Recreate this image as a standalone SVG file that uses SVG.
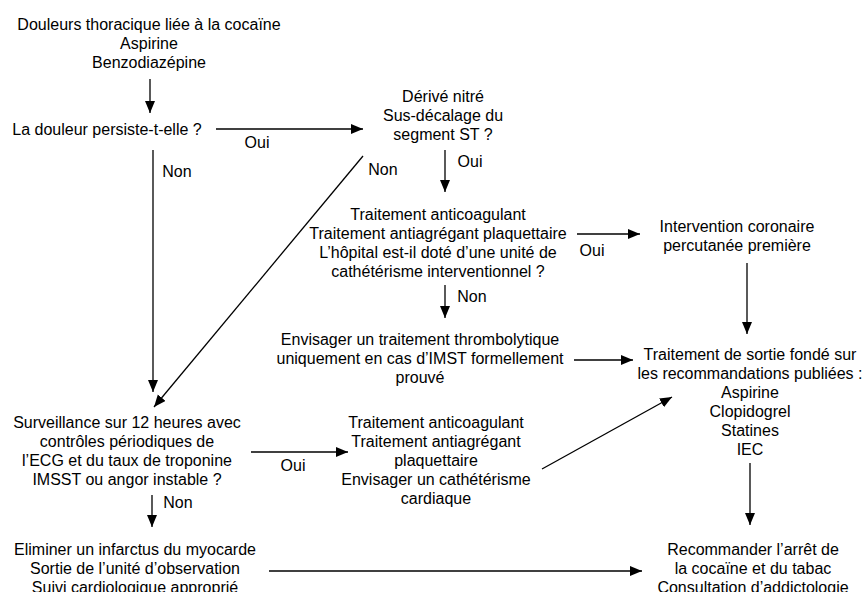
<svg xmlns="http://www.w3.org/2000/svg" width="866" height="592" viewBox="0 0 866 592">
<style>
text{font-family:"Liberation Sans",Arial,Helvetica,sans-serif;font-size:16px;fill:#000;text-anchor:middle}
.c line{stroke:#000;stroke-width:1.3;fill:none}
.a{marker-end:url(#ah)}
</style>
<defs>
<marker id="ah" markerUnits="userSpaceOnUse" markerWidth="13" markerHeight="11" refX="12" refY="5" orient="auto">
<path d="M0,0 L12,5 L0,10 z" fill="#000"/>
</marker>
</defs>
<rect width="866" height="592" fill="#fff"/>
<g id="n-start"><text x="149" y="30">Douleurs thoracique liée à la cocaïne</text><text x="149" y="49">Aspirine</text><text x="149" y="68">Benzodiazépine</text></g>
<g id="n-persiste"><text x="107" y="135">La douleur persiste-t-elle ?</text></g>
<g id="n-nitre"><text x="443" y="102">Dérivé nitré</text><text x="443" y="121">Sus-décalage du</text><text x="443" y="140">segment ST ?</text></g>
<g id="n-anticoag1"><text x="438" y="220">Traitement anticoagulant</text><text x="438" y="239">Traitement antiagrégant plaquettaire</text><text x="438" y="258">L’hôpital est-il doté d’une unité de</text><text x="438" y="277">cathétérisme interventionnel ?</text></g>
<g id="n-icp"><text x="737" y="232">Intervention coronaire</text><text x="737" y="251">percutanée première</text></g>
<g id="n-thrombo"><text x="420" y="345">Envisager un traitement thrombolytique</text><text x="420" y="364">uniquement en cas d’IMST formellement</text><text x="420" y="383">prouvé</text></g>
<g id="n-sortie"><text x="750" y="360">Traitement de sortie fondé sur</text><text x="750" y="379">les recommandations publiées :</text><text x="750" y="398">Aspirine</text><text x="750" y="417">Clopidogrel</text><text x="750" y="436">Statines</text><text x="750" y="455">IEC</text></g>
<g id="n-surv"><text x="127" y="428">Surveillance sur 12 heures avec</text><text x="127" y="447">contrôles périodiques de</text><text x="127" y="466">l’ECG et du taux de troponine</text><text x="127" y="485">IMSST ou angor instable ?</text></g>
<g id="n-anticoag2"><text x="436" y="428">Traitement anticoagulant</text><text x="436" y="447">Traitement antiagrégant</text><text x="436" y="466">plaquettaire</text><text x="436" y="485">Envisager un cathétérisme</text><text x="436" y="504">cardiaque</text></g>
<g id="n-eliminer"><text x="135" y="555">Eliminer un infarctus du myocarde</text><text x="135" y="574">Sortie de l’unité d’observation</text><text x="135" y="593">Suivi cardiologique approprié</text></g>
<g id="n-arret"><text x="753" y="555">Recommander l’arrêt de</text><text x="753" y="574">la cocaïne et du tabac</text><text x="753" y="593">Consultation d’addictologie</text></g>
<g id="connectors" class="c">
<line class="a" x1="150" y1="79" x2="150" y2="113"/>
<line class="a" x1="216" y1="129" x2="363" y2="129"/>
<text x="257" y="148">Oui</text>
<line class="a" x1="153" y1="150" x2="153" y2="392"/>
<text x="177" y="177">Non</text>
<line class="a" x1="445" y1="150" x2="445" y2="192"/>
<text x="470" y="167">Oui</text>
<line class="a" x1="363" y1="156" x2="154" y2="407"/>
<text x="383" y="175">Non</text>
<line class="a" x1="577" y1="234" x2="640" y2="234"/>
<text x="592" y="256">Oui</text>
<line class="a" x1="747" y1="263" x2="747" y2="334"/>
<line class="a" x1="445" y1="285" x2="445" y2="318"/>
<text x="472" y="302">Non</text>
<line class="a" x1="574" y1="360" x2="633" y2="360"/>
<line class="a" x1="251" y1="452" x2="348" y2="452"/>
<text x="293" y="471">Oui</text>
<line class="a" x1="542" y1="469" x2="672" y2="397"/>
<line class="a" x1="750" y1="463" x2="750" y2="525"/>
<line class="a" x1="152" y1="495" x2="152" y2="527"/>
<text x="178" y="508">Non</text>
<line class="a" x1="269" y1="571" x2="642" y2="571"/>
</g>
</svg>
